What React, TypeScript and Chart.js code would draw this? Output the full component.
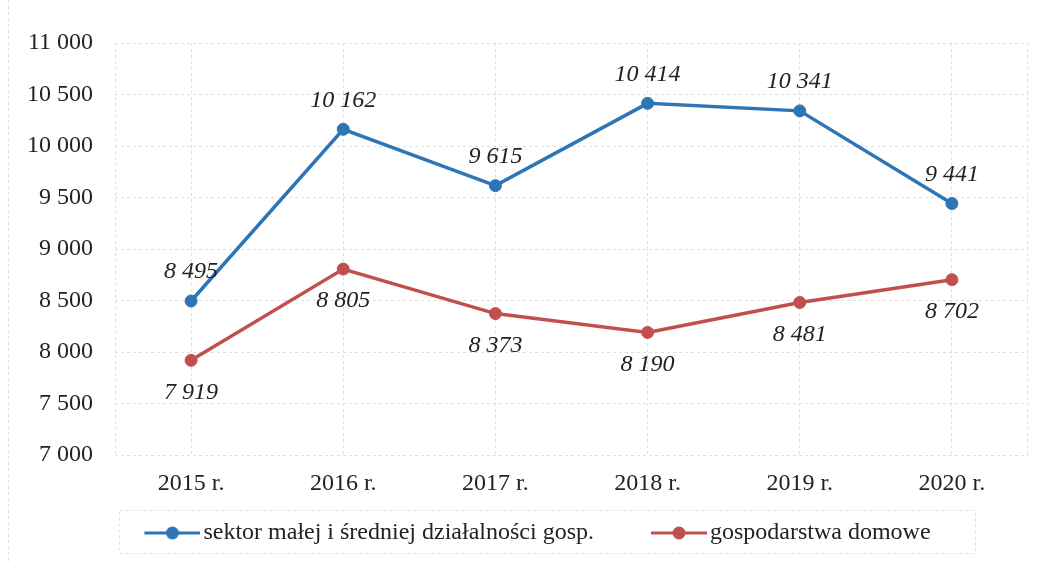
import React, { useEffect, useRef } from 'react';
import { Chart, registerables } from 'chart.js';

Chart.register(...registerables);

const categories = ['2015 r.', '2016 r.', '2017 r.', '2018 r.', '2019 r.', '2020 r.'];
const smeValues = [8495, 10162, 9615, 10414, 10341, 9441];
const householdValues = [7919, 8805, 8373, 8190, 8481, 8702];
const seriesNames = ['sektor małej i średniej działalności gosp.', 'gospodarstwa domowe'];
const yMin = 7000;
const yMax = 11000;
const yStep = 500;

const BLUE = '#2e75b6';
const RED = '#c0504d';
const FONT = '"Liberation Serif", "Times New Roman", serif';
const TEXT = '#222222';
const GRID = '#e0e0e0';

const fmt = (n: number) => String(n).replace(/\B(?=(\d{3})+(?!\d))/g, ' ');

const LEGEND_FONT = 24;
const LEGEND_BOX = 94;

function makeLegendIcon(color: string): HTMLCanvasElement {
  const W = LEGEND_BOX + LEGEND_FONT - 6;
  const H = 16;
  const c = document.createElement('canvas');
  c.width = W;
  c.height = H;
  const ctx = c.getContext('2d')!;
  ctx.strokeStyle = color;
  ctx.lineWidth = 3;
  ctx.beginPath();
  ctx.moveTo(W - 56, H / 2);
  ctx.lineTo(W, H / 2);
  ctx.stroke();
  ctx.fillStyle = color;
  ctx.beginPath();
  ctx.arc(W - 28, H / 2, 6.5, 0, Math.PI * 2);
  ctx.fill();
  return c;
}

const valueLabelPlugin = {
  id: 'valueLabels',
  afterDatasetsDraw(chart: any, _args: any, opts: any) {
    const ctx = chart.ctx;
    ctx.save();
    ctx.font = `italic 24px ${FONT}`;
    ctx.fillStyle = TEXT;
    ctx.textAlign = 'center';
    ctx.textBaseline = 'middle';
    chart.data.datasets.forEach((ds: any, di: number) => {
      const meta = chart.getDatasetMeta(di);
      const off = (opts.offsets || [])[di] || 0;
      meta.data.forEach((el: any, i: number) => {
        ctx.fillText(fmt(ds.data[i]), el.x, el.y + off);
      });
    });
    ctx.restore();
  },
};

const framePlugin = {
  id: 'frameLines',
  beforeDatasetsDraw(chart: any) {
    const { ctx, chartArea } = chart;
    ctx.save();
    ctx.strokeStyle = GRID;
    ctx.lineWidth = 1;
    ctx.setLineDash([3, 3]);
    ctx.beginPath();
    ctx.moveTo(Math.round(chartArea.left) + 0.5, chartArea.top);
    ctx.lineTo(Math.round(chartArea.left) + 0.5, chartArea.bottom);
    ctx.moveTo(Math.round(chartArea.right) - 0.5, chartArea.top);
    ctx.lineTo(Math.round(chartArea.right) - 0.5, chartArea.bottom);
    ctx.stroke();
    ctx.restore();
  },
  afterDraw(chart: any) {
    const { ctx } = chart;
    const lg = chart.legend;
    if (!lg || !lg.legendHitBoxes || !lg.legendHitBoxes.length) return;
    const boxes = lg.legendHitBoxes;
    const first = boxes[0];
    const last = boxes[boxes.length - 1];
    const left = first.left + LEGEND_BOX - 47 - 25;
    const right = last.left + last.width + 45;
    const top = first.top - 11;
    const bottom = first.top + first.height + 8;
    ctx.save();
    ctx.strokeStyle = GRID;
    ctx.lineWidth = 1;
    ctx.setLineDash([3, 3]);
    ctx.strokeRect(Math.round(left) + 0.5, Math.round(top) + 0.5, Math.round(right - left), Math.round(bottom - top));
    ctx.beginPath();
    ctx.moveTo(8.5, 0);
    ctx.lineTo(8.5, chart.height);
    ctx.stroke();
    ctx.restore();
  },
};

export default function App() {
  const canvasRef = useRef<HTMLCanvasElement | null>(null);

  useEffect(() => {
    document.body.style.margin = '0';
    const canvas = canvasRef.current;
    if (!canvas) return;
    const icons = [makeLegendIcon(BLUE), makeLegendIcon(RED)];
    const chart = new Chart(canvas, {
      type: 'line',
      data: {
        labels: categories,
        datasets: [
          {
            label: seriesNames[0],
            data: smeValues,
            borderColor: BLUE,
            backgroundColor: BLUE,
            borderWidth: 3.5,
            pointRadius: 6,
            pointHoverRadius: 6,
            pointBackgroundColor: BLUE,
            pointBorderColor: BLUE,
            pointBorderWidth: 1,
            tension: 0,
          },
          {
            label: seriesNames[1],
            data: householdValues,
            borderColor: RED,
            backgroundColor: RED,
            borderWidth: 3.5,
            pointRadius: 6,
            pointHoverRadius: 6,
            pointBackgroundColor: RED,
            pointBorderColor: RED,
            pointBorderWidth: 1,
            tension: 0,
          },
        ],
      },
      options: {
        responsive: true,
        maintainAspectRatio: false,
        animation: false,
        layout: { padding: { left: 0, right: 16, top: 43, bottom: 7 } },
        scales: {
          x: {
            type: 'category',
            offset: true,
            grid: { offset: false, color: GRID, drawTicks: false } as any,
            border: { display: false, dash: [3, 3] },
            ticks: { color: TEXT, font: { family: FONT, size: 24 }, padding: 14 },
            afterFit(scale: any) {
              scale.height = 56;
            },
          },
          y: {
            min: yMin,
            max: yMax,
            grid: { color: GRID, drawTicks: false },
            border: { display: false, dash: [3, 3] },
            ticks: {
              stepSize: yStep,
              color: TEXT,
              font: { family: FONT, size: 24 },
              padding: 22,
              callback: (v: any) => fmt(Number(v)),
            },
            afterFit(scale: any) {
              scale.width = 115;
            },
          },
        },
        plugins: {
          legend: {
            position: 'bottom',
            labels: {
              usePointStyle: true,
              pointStyleWidth: LEGEND_BOX,
              padding: 10,
              color: TEXT,
              font: { family: FONT, size: LEGEND_FONT },
              generateLabels(ch: any) {
                const items = Chart.defaults.plugins.legend.labels.generateLabels(ch);
                return items.map((it: any, i: number) => ({ ...it, pointStyle: icons[i] }));
              },
            },
          },
          tooltip: { enabled: false },
          valueLabels: { offsets: [-29, 32] },
        } as any,
      },
      plugins: [valueLabelPlugin, framePlugin],
    });
    return () => chart.destroy();
  }, []);

  return (
    <div style={{ width: 1044, height: 562, position: 'relative', background: '#fff' }}>
      <canvas ref={canvasRef} />
    </div>
  );
}
